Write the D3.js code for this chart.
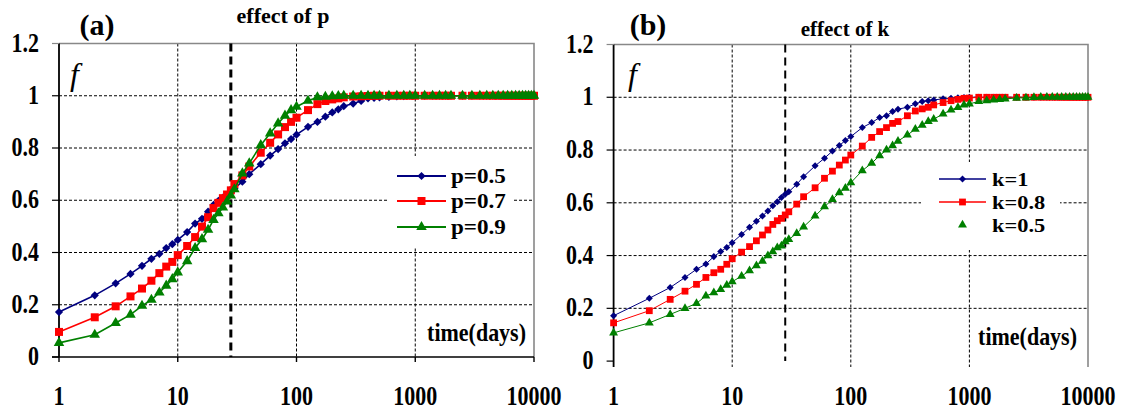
<!DOCTYPE html>
<html>
<head>
<meta charset="utf-8">
<script src="https://cdn.jsdelivr.net/npm/d3@7"></script>
<style>
body { margin: 0; background: #fff; }
</style>
</head>
<body>
<script>
// days sampled (same for every series)
var days = [1, 2, 3, 4, 5, 6, 7, 8, 9, 10,
    12, 14, 16, 18, 20, 22, 24, 26, 28, 30,
    35, 40,
    50, 60, 70, 80, 90, 100,
    125, 150, 175, 200, 225, 250,
    300, 350, 400, 450, 500,
    600, 700, 800, 900, 1000,
    1200, 1400, 1600, 1800, 2000,
    2500, 3000, 3500, 4000, 4500, 5000, 5500, 6000, 6500, 7000, 7500, 8000, 8500, 9000, 9500, 10000];

// panel (a): effect of p
var fP05 = [0.172, 0.236, 0.282, 0.318, 0.349, 0.376, 0.395, 0.417, 0.432, 0.448,
    0.478, 0.511, 0.529, 0.556, 0.582, 0.598, 0.61, 0.62, 0.63, 0.645,
    0.671, 0.70,
    0.738, 0.771, 0.796, 0.818, 0.834, 0.851,
    0.881, 0.90, 0.92, 0.936, 0.948, 0.96,
    0.97, 0.98, 0.99, 0.992, 0.994,
    0.996, 0.998, 0.999, 1, 1,
    1, 1, 1, 1, 1,
    1, 1, 1, 1, 1, 1, 1, 1, 1, 1, 1, 1, 1, 1, 1, 1];
var fP07 = [0.096, 0.152, 0.194, 0.232, 0.262, 0.292, 0.321, 0.346, 0.364, 0.39,
    0.425, 0.459, 0.499, 0.535, 0.57, 0.59, 0.608, 0.622, 0.638, 0.662,
    0.695, 0.729,
    0.782, 0.82, 0.852, 0.88, 0.9, 0.916,
    0.945, 0.968, 0.98, 0.986, 0.99, 0.994,
    0.997, 0.998, 0.999, 1, 1,
    1, 1, 1, 1, 1,
    1, 1, 1, 1, 1,
    1, 1, 1, 1, 1, 1, 1, 1, 1, 1, 1, 1, 1, 1, 1, 1];
var fP09 = [0.054, 0.085, 0.13, 0.162, 0.196, 0.219, 0.247, 0.273, 0.298, 0.324,
    0.367, 0.417, 0.451, 0.487, 0.525, 0.55, 0.572, 0.595, 0.618, 0.642,
    0.703, 0.741,
    0.811, 0.856, 0.894, 0.924, 0.945, 0.958,
    0.981, 0.994, 0.996, 0.998, 0.999, 1,
    1, 1, 1, 1, 1,
    1, 1, 1, 1, 1,
    1, 1, 1, 1, 1,
    1, 1, 1, 1, 1, 1, 1, 1, 1, 1, 1, 1, 1, 1, 1, 1];

// panel (b): effect of k
var fK1 = [0.172, 0.238, 0.279, 0.317, 0.348, 0.368, 0.396, 0.415, 0.431, 0.449,
    0.48, 0.507, 0.53, 0.55, 0.569, 0.589, 0.604, 0.62, 0.632, 0.642,
    0.67, 0.699,
    0.74, 0.769, 0.796, 0.817, 0.836, 0.851,
    0.885, 0.904, 0.923, 0.93, 0.946, 0.955,
    0.962, 0.975, 0.984, 0.987, 0.99,
    0.994, 0.996, 0.998, 0.999, 1,
    1, 1, 1, 1, 1,
    1, 1, 1, 1, 1, 1, 1, 1, 1, 1, 1, 1, 1, 1, 1, 1];
var fK08 = [0.145, 0.191, 0.234, 0.265, 0.291, 0.317, 0.335, 0.348, 0.367, 0.388,
    0.413, 0.434, 0.456, 0.478, 0.497, 0.518, 0.532, 0.541, 0.554, 0.566,
    0.595, 0.623,
    0.657, 0.693, 0.72, 0.743, 0.762, 0.781,
    0.815, 0.848, 0.87, 0.885, 0.901, 0.908,
    0.93, 0.948, 0.956, 0.962, 0.971,
    0.98, 0.987, 0.992, 0.996, 0.997,
    1, 1, 1, 1, 1,
    1, 1, 1, 1, 1, 1, 1, 1, 1, 1, 1, 1, 1, 1, 1, 1];
var fK05 = [0.107, 0.145, 0.177, 0.2, 0.219, 0.247, 0.259, 0.272, 0.288, 0.301,
    0.322, 0.343, 0.362, 0.379, 0.4, 0.415, 0.43, 0.437, 0.453, 0.461,
    0.484, 0.509,
    0.55, 0.585, 0.613, 0.638, 0.655, 0.676,
    0.722, 0.75, 0.779, 0.8, 0.817, 0.834,
    0.857, 0.879, 0.894, 0.908, 0.917,
    0.937, 0.952, 0.962, 0.971, 0.975,
    0.984, 0.987, 0.99, 0.992, 0.994,
    0.997, 0.998, 0.999, 1, 1, 1, 1, 1, 1, 1, 1, 1, 1, 1, 1, 1];

var xTicks = [1, 10, 100, 1000, 10000],
    yTicks = [0, 0.2, 0.4, 0.6, 0.8, 1, 1.2],
    yTickLabels = ['0', '0.2', '0.4', '0.6', '0.8', '1', '1.2'],
    legendP = ['p=0.5', 'p=0.7', 'p=0.9'],
    legendK = ['k=1', 'k=0.8', 'k=0.5'],
    colors = ['#000080', '#ff0000', '#008000'],
    markers = ['diamond', 'square', 'triangle'],
    markDay = 28;

var width = 1122,
    height = 414;

var svg = d3.select('body').append('svg')
    .attr('width', width)
    .attr('height', height);

var panels = [
    {
        left: 59, right: 534, top: 43.5, bottom: 357, axisEnd: 357,
        series: [fP05, fP07, fP09], names: legendP,
        label: '(a)', labelX: 97, title: 'effect of p', titleX: 283, titleY: 23, titleSize: 22,
        xAxisLine: true, lineW: 1.6, markScale: 1, dashW: 3,
        legend: {x0: 397, x1: 446, tx: 451, ys: [176, 201, 227], box: [387, 156, 126, 92],
            lines: [true, true, true], size: 21, sx: 1.1},
        timeX: 526, timeY: 341, fX: 70
    },
    {
        left: 613.6, right: 1088, top: 44.5, bottom: 361.1, axisEnd: 367,
        series: [fK1, fK08, fK05], names: legendK,
        label: '(b)', labelX: 648, title: 'effect of k', titleX: 845, titleY: 36, titleSize: 21,
        xAxisLine: false, lineW: 1, markScale: 0.85, dashW: 2,
        legend: {x0: 939, x1: 986, tx: 992, ys: [179, 202, 225], box: [921, 162, 139, 88],
            lines: [true, true, false], size: 19, sx: 1.18},
        timeX: 1077, timeY: 345, fX: 628
    }
];

function markerPath(type, s) {
    if (type === 'diamond') return d3.symbol(d3.symbolSquare, 34 * s * s)();
    if (type === 'square') return d3.symbol(d3.symbolSquare, 64 * s * s)();
    return d3.symbol(d3.symbolTriangle, 48 * s * s)();
}

// Times-like bold text
function txt(sel) {
    return sel.style('font-family', "'Liberation Serif'").style('font-weight', 'bold');
}

panels.forEach(function(p) {
    var x = d3.scaleLog().domain([1, 10000]).range([p.left, p.right]),
        y = d3.scaleLinear().domain([0, 1.2]).range([p.bottom, p.top]);

    var g = svg.append('g');

    // grid
    g.selectAll('.hgrid')
        .data(yTicks.filter(function(d) { return d > 0 && d < 1.2; }))
        .enter().append('line')
        .attr('x1', p.left).attr('x2', p.right)
        .attr('y1', function(d) { return y(d); }).attr('y2', function(d) { return y(d); })
        .attr('stroke', '#000').attr('stroke-width', 1).attr('stroke-dasharray', '3,2');

    g.selectAll('.vgrid')
        .data([10, 100, 1000])
        .enter().append('line')
        .attr('x1', function(d) { return x(d); }).attr('x2', function(d) { return x(d); })
        .attr('y1', p.top).attr('y2', p.axisEnd)
        .attr('stroke', '#000').attr('stroke-width', 1).attr('stroke-dasharray', '3,2');

    // plot border (grey top & right)
    g.append('path')
        .attr('d', 'M' + p.left + ',' + p.top + 'H' + p.right + 'V' + p.axisEnd)
        .attr('fill', 'none').attr('stroke', '#888').attr('stroke-width', 1.6);

    // legend box hides grid
    g.append('rect')
        .attr('x', p.legend.box[0]).attr('y', p.legend.box[1])
        .attr('width', p.legend.box[2]).attr('height', p.legend.box[3])
        .attr('fill', '#fff');

    // vertical dashed marker line
    g.append('line')
        .attr('x1', x(markDay)).attr('x2', x(markDay))
        .attr('y1', p.top).attr('y2', p.bottom)
        .attr('stroke', '#000').attr('stroke-width', p.dashW).attr('stroke-dasharray', '8,5');

    // axes
    g.append('line')
        .attr('x1', p.left).attr('x2', p.left)
        .attr('y1', p.top).attr('y2', p.axisEnd)
        .attr('stroke', '#000').attr('stroke-width', 1.8);
    g.selectAll('.ytick')
        .data(yTicks)
        .enter().append('line')
        .attr('x1', p.left - 7).attr('x2', p.left)
        .attr('y1', function(d) { return y(d); }).attr('y2', function(d) { return y(d); })
        .attr('stroke', function(d) { return d === 1.2 ? '#888' : '#000'; })
        .attr('stroke-width', 1.2);
    if (p.xAxisLine) {
        g.append('line')
            .attr('x1', p.left - 7).attr('x2', p.right)
            .attr('y1', p.bottom).attr('y2', p.bottom)
            .attr('stroke', '#000').attr('stroke-width', 1.6);
        g.selectAll('.xtick')
            .data(xTicks)
            .enter().append('line')
            .attr('x1', function(d) { return x(d); }).attr('x2', function(d) { return x(d); })
            .attr('y1', p.bottom).attr('y2', p.bottom + 5)
            .attr('stroke', '#000').attr('stroke-width', 1.4);
    }

    // tick labels
    txt(g.selectAll('.ylab')
        .data(yTicks)
        .enter().append('text'))
        .attr('transform', function(d) { return 'translate(' + (p.left - 20) + ',' + (y(d) + 8) + ')scale(1,1.2)'; })
        .attr('text-anchor', 'end')
        .style('font-size', '22px')
        .text(function(d, i) { return yTickLabels[i]; });

    txt(g.selectAll('.xlab')
        .data(xTicks)
        .enter().append('text'))
        .attr('transform', function(d) { return 'translate(' + x(d) + ',405)scale(1,1.2)'; })
        .attr('text-anchor', 'middle')
        .style('font-size', '22px')
        .text(function(d) { return d; });

    // series
    var line = d3.line()
        .x(function(d) { return x(d[0]); })
        .y(function(d) { return y(d[1]); });

    p.series.forEach(function(vals, i) {
        var pts = days.map(function(d, j) { return [d, vals[j]]; });
        g.append('path')
            .datum(pts)
            .attr('d', line)
            .attr('fill', 'none')
            .attr('stroke', colors[i])
            .attr('stroke-width', p.lineW);
        g.selectAll('.m' + i)
            .data(pts)
            .enter().append('path')
            .attr('d', markerPath(markers[i], p.markScale))
            .attr('transform', function(d) {
                return 'translate(' + x(d[0]) + ',' + y(d[1]) + ')' + (markers[i] === 'diamond' ? 'rotate(45)' : '');
            })
            .attr('fill', colors[i]);
    });

    // legend
    p.names.forEach(function(name, i) {
        var ly = p.legend.ys[i];
        if (p.legend.lines[i]) {
            g.append('line')
                .attr('x1', p.legend.x0).attr('x2', p.legend.x1)
                .attr('y1', ly).attr('y2', ly)
                .attr('stroke', colors[i]).attr('stroke-width', p.lineW + 0.6);
        }
        g.append('path')
            .attr('d', markerPath(markers[i], p.markScale))
            .attr('transform', 'translate(' + (p.legend.x0 + p.legend.x1) / 2 + ',' + ly + ')' + (markers[i] === 'diamond' ? 'rotate(45)' : ''))
            .attr('fill', colors[i]);
        txt(g.append('text'))
            .attr('transform', 'translate(' + p.legend.tx + ',' + (ly + 7) + ')scale(' + p.legend.sx + ',1)')
            .style('font-size', p.legend.size + 'px')
            .text(name);
    });

    // labels
    txt(g.append('text'))
        .attr('x', p.labelX).attr('y', 35)
        .attr('text-anchor', 'middle')
        .style('font-size', '30px')
        .text(p.label);
    txt(g.append('text'))
        .attr('x', p.titleX).attr('y', p.titleY)
        .attr('text-anchor', 'middle')
        .style('font-size', p.titleSize + 'px')
        .text(p.title);
    txt(g.append('text'))
        .attr('x', p.fX).attr('y', 85)
        .style('font-size', '32px')
        .style('font-style', 'italic')
        .style('font-weight', 'normal')
        .text('f');
    txt(g.append('text'))
        .attr('transform', 'translate(' + p.timeX + ',' + p.timeY + ')scale(1,1.1)')
        .attr('text-anchor', 'end')
        .style('font-size', '22px')
        .text('time(days)');
});
</script>
</body>
</html>
